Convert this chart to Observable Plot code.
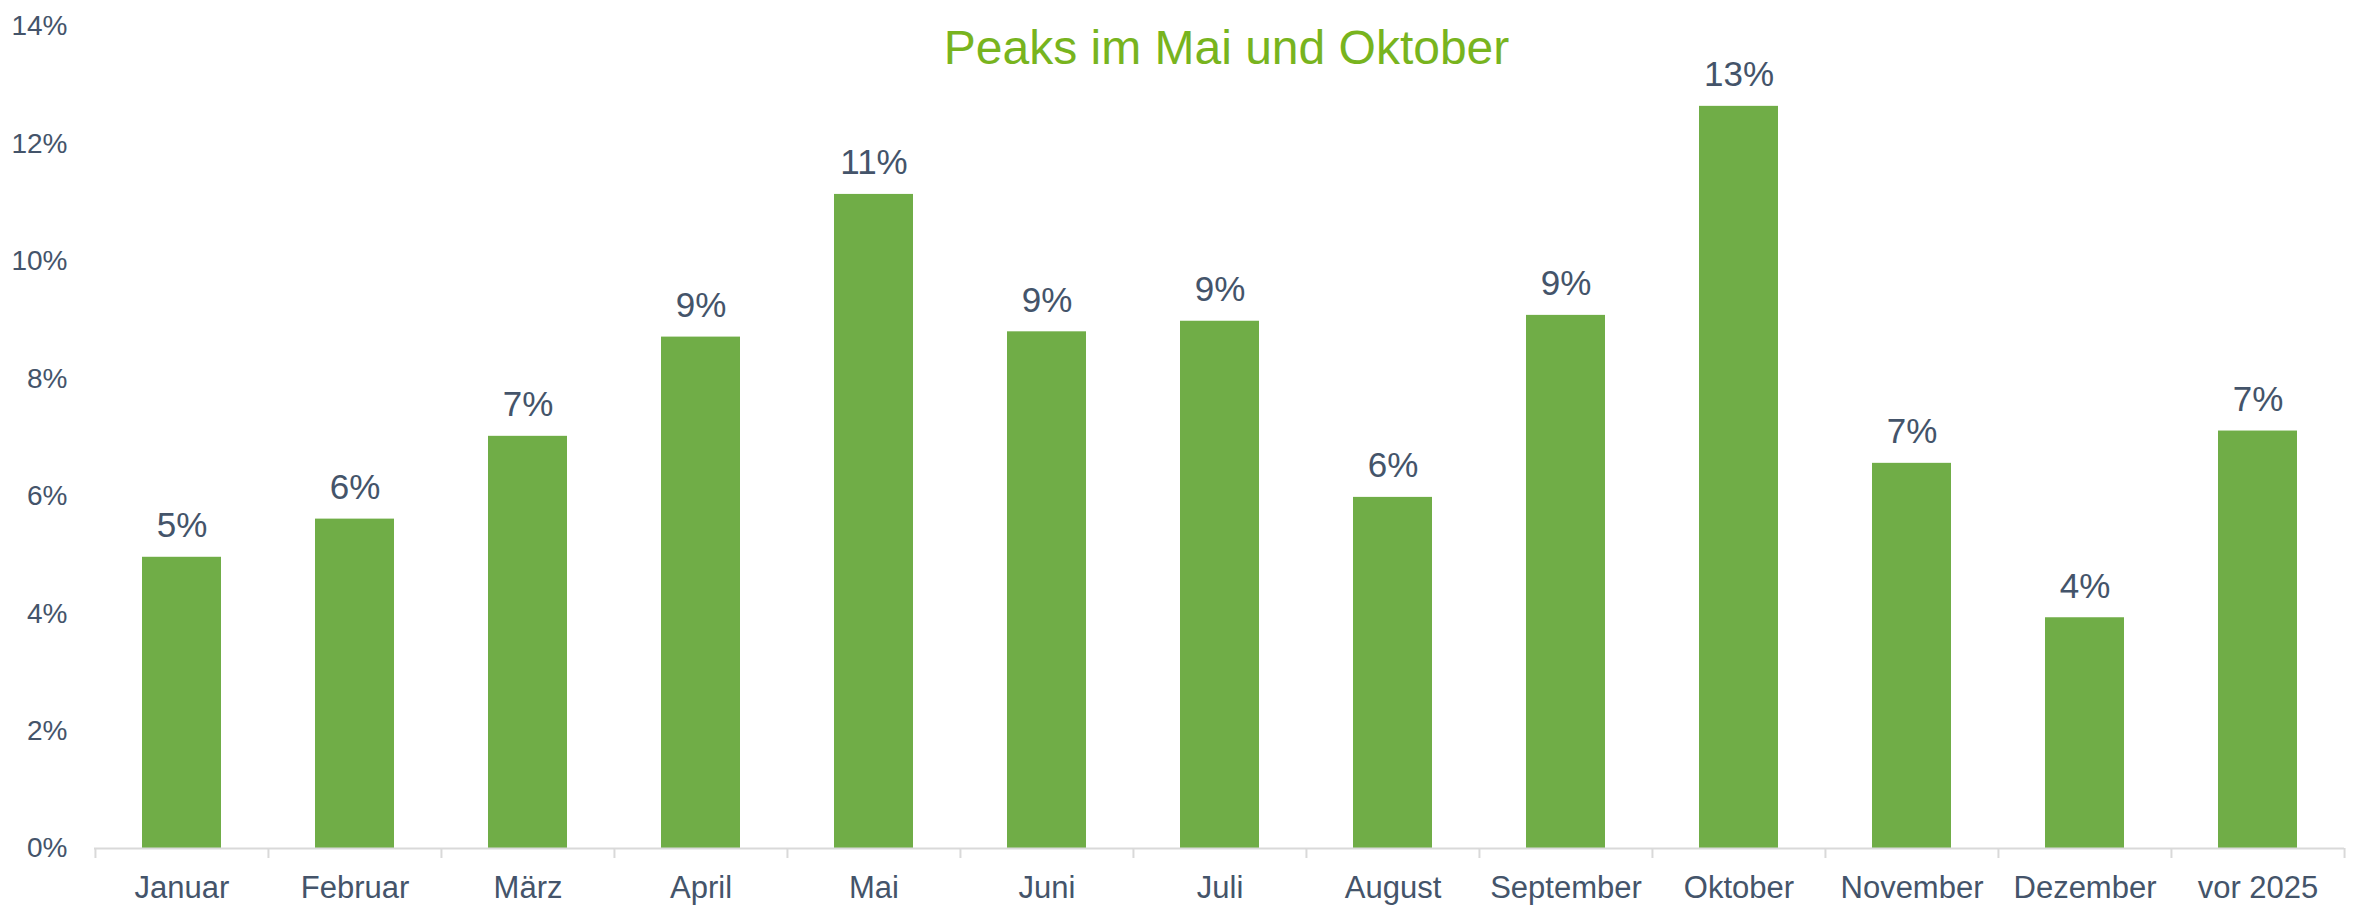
<!DOCTYPE html>
<html>
<head>
<meta charset="utf-8">
<script src="https://cdn.jsdelivr.net/npm/d3@7"></script>
<script src="https://cdn.jsdelivr.net/npm/@observablehq/plot@0.6"></script>
<style>
  html, body { margin: 0; padding: 0; background: #fff; }
</style>
</head>
<body>
<div id="chart"></div>
<script>
const title = "Peaks im Mai und Oktober";
const categories = ["Januar", "Februar", "März", "April", "Mai", "Juni", "Juli", "August", "September", "Oktober", "November", "Dezember", "vor 2025"];
const values = [4.96, 5.61, 7.02, 8.71, 11.14, 8.80, 8.98, 5.98, 9.08, 12.64, 6.56, 3.93, 7.11];
const yTicks = [0, 2, 4, 6, 8, 10, 12, 14];

const data = categories.map((c, i) => ({category: c, value: values[i]}));

const width = 2357, height = 909;
const marginLeft = 94, marginRight = 13, marginTop = 26, marginBottom = 61;
const step = (width - marginLeft - marginRight) / categories.length;
const textColor = "#44546a";

const chart = Plot.plot({
  width, height, marginLeft, marginRight, marginTop, marginBottom,
  style: {fontFamily: "'Liberation Sans', Arial, sans-serif", color: textColor, background: "#fff"},
  x: {domain: categories, paddingInner: 0.546, paddingOuter: 0.273, label: null},
  y: {domain: [0, 14], label: null},
  marks: [
    Plot.barY(data, {x: "category", y: "value", fill: "#70ad47"}),
    Plot.ruleY([0], {stroke: "#d9d9d9", strokeWidth: 2}),
    Plot.axisY({ticks: yTicks, tickSize: 0, tickPadding: 27, tickFormat: d => d + "%", fontSize: 28, label: null, fill: textColor}),
    Plot.axisX({tickSize: 0, tickPadding: 27, fontSize: 31, label: null, fill: textColor}),
    Plot.axisX({tickSize: 10, dx: -step / 2, tickFormat: () => "", stroke: "#d9d9d9", strokeWidth: 2, label: null}),
    Plot.axisX(["vor 2025"], {tickSize: 10, dx: step / 2, tickFormat: () => "", stroke: "#d9d9d9", strokeWidth: 2, label: null}),
    Plot.text(data, {x: "category", y: "value", text: d => Math.round(d.value) + "%", lineAnchor: "bottom", dy: -20, fontSize: 35, fill: textColor}),
    Plot.text([title], {frameAnchor: "top-left", dx: 1226 - marginLeft, dy: 63 - marginTop, lineAnchor: "bottom", textAnchor: "middle", fontSize: 48, fill: "#78b41e", text: d => d})
  ]
});
document.getElementById("chart").appendChild(chart);
</script>
</body>
</html>
